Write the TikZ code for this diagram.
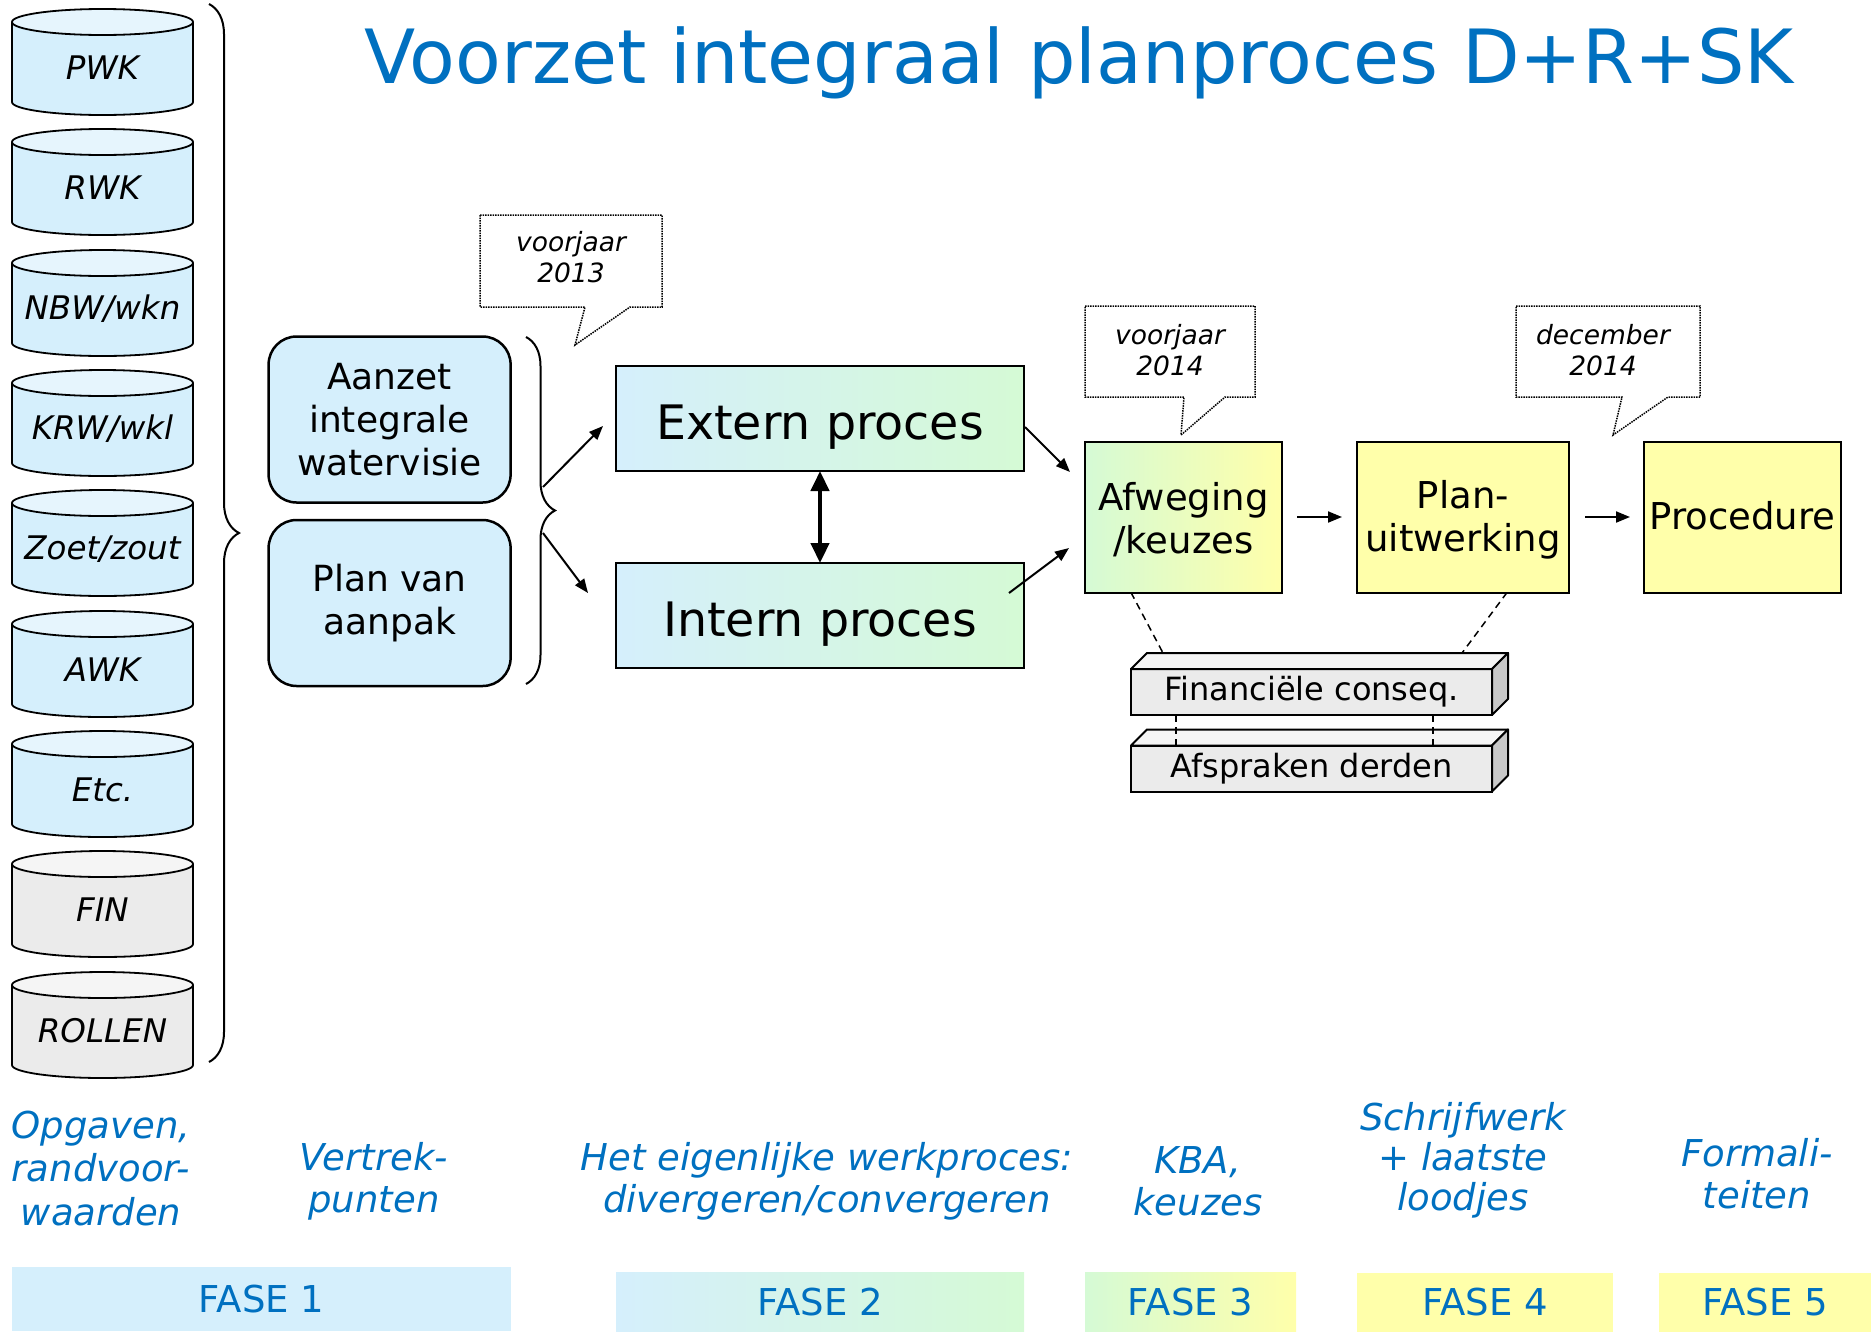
\documentclass[tikz,border=0pt]{standalone}
\usepackage{fontspec}
\setmainfont{DejaVu Sans}
\usetikzlibrary{arrows.meta,decorations.pathreplacing,calc}
\definecolor{tblue}{HTML}{0070C0}
\definecolor{lblue}{HTML}{D5EFFC}
\definecolor{lbluetop}{HTML}{E6F5FD}
\definecolor{lgreen}{HTML}{D5FAD5}
\definecolor{lyellow}{HTML}{FFFFAA}
\definecolor{lgray}{HTML}{EBEBEB}
\definecolor{lgraytop}{HTML}{F5F5F5}
\definecolor{dgray}{HTML}{C8C8C8}
\newcommand{\fs}[2]{\fontsize{#1}{#2}\selectfont}
\newcommand{\mycyl}[5]{%
  \fill[#4] (12,#2-40) rectangle (193,#2+40);
  \fill[#4] (102.5,#2+40) ellipse [x radius=90.5, y radius=13];
  \begin{scope}
    \clip (5,#2+40) rectangle (200,#2+60);
    \draw[cylline] (102.5,#2+40) ellipse [x radius=90.5, y radius=13];
  \end{scope}
  \draw[cylline] (12,#2-40) -- (12,#2+40) (193,#2-40) -- (193,#2+40);
  \draw[cylline, fill=#5] (102.5,#2-40) ellipse [x radius=90.5, y radius=13];
  \node[cyltext] (#1) at (102.5,#2+6) {#3};
}
\begin{document}
\begin{tikzpicture}[x=1pt,y=-1pt,
  cylline/.style={line width=1.8pt},
  cyltext/.style={font=\fs{32.5}{38}\itshape, inner sep=0pt},
  rbox/.style={draw, line width=2.5pt, rounded corners=28pt, fill=lblue, minimum width=242pt, minimum height=166pt, align=center, inner sep=0pt, outer sep=0pt, font=\fs{36}{43}},
  pbox/.style={draw, line width=2pt, inner sep=0pt, outer sep=0pt, align=center},
  arr/.style={line width=2pt, -{Triangle[length=14pt,width=11pt]}},
  calloutline/.style={densely dotted, line width=1.5pt},
  callouttext/.style={font=\fs{26.5}{31}\itshape, align=center, inner sep=0pt},
  phaselabel/.style={text=tblue, font=\fs{37}{42}\itshape, align=center, inner sep=0pt},
  fase/.style={inner sep=0pt, outer sep=0pt, text=tblue, font=\fs{37}{42}},
  bar3d/.style={draw, line width=2pt, fill=lgray, minimum width=361pt, minimum height=46pt, inner sep=0pt, outer sep=0pt, font=\fs{32}{36}},
  dline/.style={line width=1.5pt, dash pattern=on 7pt off 5pt},
]
\useasboundingbox (0,0) rectangle (1871,1331);

% title
\node[text=tblue, font=\fs{74.8}{80}, inner sep=0pt] (title) at (1079,63) {Voorzet integraal planproces D+R+SK};

% cylinders
\mycyl{pwk}{62}{PWK}{lblue}{lbluetop}
\mycyl{rwk}{182}{RWK}{lblue}{lbluetop}
\mycyl{nbw}{303}{NBW/wkn}{lblue}{lbluetop}
\mycyl{krw}{423}{KRW/wkl}{lblue}{lbluetop}
\mycyl{zoet}{543}{Zoet/zout}{lblue}{lbluetop}
\mycyl{awk}{664}{AWK}{lblue}{lbluetop}
\mycyl{etc}{784}{Etc.}{lblue}{lbluetop}
\mycyl{fin}{904}{FIN}{lgray}{lgraytop}
\mycyl{rollen}{1025}{ROLLEN}{lgray}{lgraytop}

% big brace
\draw[line width=2pt, decorate, decoration={brace, amplitude=30pt}] (209,4) -- (209,1062);

% rounded boxes
\node[rbox] (aanzet) at (389.6,419.5) {Aanzet\\integrale\\watervisie};
\node[rbox] (plan) at (389.6,603) {Plan van\\aanpak};
\draw[line width=2pt, decorate, decoration={brace, amplitude=29pt}] (526,337) -- (526,684);
\coordinate (bru) at (543,487);
\coordinate (brl) at (543,533);

% callout 2013
\draw[calloutline] (480,215) -- (662,215) -- (662,307) -- (630,307) -- (575,345) -- (585,307) -- (480,307) -- cycle;
\node[callouttext] (c13) at (571,257.5) {voorjaar\\2013};

% process boxes
\node[pbox, left color=lblue, right color=lgreen, minimum width=408pt, minimum height=105pt, font=\fs{47.5}{50}, text height=41pt, text depth=0pt] (ext) at (820,418.5) {Extern proces};
\node[pbox, left color=lblue, right color=lgreen, minimum width=408pt, minimum height=105pt, font=\fs{47.5}{50}, text height=41pt, text depth=0pt] (int) at (820,615.5) {Intern proces};
\draw[line width=4.5pt, {Triangle[length=20pt,width=18pt]}-{Triangle[length=20pt,width=18pt]}] (ext.south) -- (int.north);

\draw[arr] (bru) -- ($(ext.west)+(-13,7.5)$);
\draw[arr] (brl) -- ($(int.west)+(-28,-22.5)$);

% right boxes
\node[pbox, left color=lgreen, right color=lyellow, minimum width=197pt, minimum height=151pt, font=\fs{37}{43}] (afw) at (1183.5,517) {\rule{0pt}{34pt}Afweging\\/keuzes};
\node[pbox, fill=lyellow, minimum width=212pt, minimum height=151pt, font=\fs{37}{43}] (pu) at (1463,517) {\rule{0pt}{34pt}Plan-\\uitwerking};
\node[pbox, fill=lyellow, minimum width=197pt, minimum height=151pt, font=\fs{37}{43}, text height=24pt, text depth=0pt] (proc) at (1742.5,517) {Procedure};

\draw[arr] ($(ext.east)+(1,8.5)$) -- ($(afw.west)+(-15,-45)$);
\draw[arr] ($(int.east)+(-15,-22.5)$) -- ($(afw.west)+(-16,31)$);
\draw[arr, shorten <=15pt, shorten >=15pt] (afw.east) -- (pu.west);
\draw[arr, shorten <=16pt, shorten >=14pt] (pu.east) -- (proc.west);

% callouts 2014
\draw[calloutline] (1085,306) -- (1255,306) -- (1255,397) -- (1225,397) -- (1181,435) -- (1184,397) -- (1085,397) -- cycle;
\node[callouttext] (c14) at (1170,350) {voorjaar\\2014};
\draw[calloutline] (1516,306) -- (1700,306) -- (1700,397) -- (1668,397) -- (1613,435) -- (1622,397) -- (1516,397) -- cycle;
\node[callouttext] (cdec) at (1603,350) {december\\2014};

% 3D bars
\node[bar3d] (finc) at (1311.5,692) {Financiële conseq.};
\node[bar3d] (afs) at (1311.5,768.5) {Afspraken derden};
\draw[dline] ($(afw.south west)+(46,0)$) -- ($(finc.north west)+(32,-16)$);
\draw[dline] ($(pu.south west)+(150,0)$) -- ($(finc.north west)+(331,-16)$);
\foreach \b in {finc,afs}{
  \draw[line width=2pt, fill=lgraytop, line join=round] (\b.north west) -- ++(16,-16) -- ++(361,0) -- (\b.north east) -- cycle;
  \draw[line width=2pt, fill=dgray, line join=round] (\b.north east) -- ++(16,-16) -- ++(0,46) -- (\b.south east) -- cycle;
}
\draw[dline] ($(finc.south west)+(45,0)$) -- ($(afs.north west)+(45,0)$);
\draw[dline] ($(finc.south west)+(302,0)$) -- ($(afs.north west)+(302,0)$);

% phase labels
\node[phaselabel, font=\fs{37}{43.5}\itshape] (l1) at (101,1168.5) {Opgaven,\\randvoor-\\waarden};
\node[phaselabel] (l2) at (374,1181) {Vertrek-\\punten};
\node[phaselabel] (l3) at (827,1181) {Het eigenlijke werkproces:\\divergeren/convergeren};
\node[phaselabel] (l4) at (1198,1181) {KBA,\\keuzes};
\node[phaselabel, font=\fs{37}{40}\itshape] (l5) at (1463,1160) {Schrijfwerk\\+ laatste\\loodjes};
\node[phaselabel] (l6) at (1757,1174) {Formali-\\teiten};

% phase bars
\node[fase, fill=lblue, minimum width=499pt, minimum height=64pt] (f1) at (261.5,1299) {FASE 1};
\node[fase, left color=lblue, right color=lgreen, minimum width=408pt, minimum height=60pt] (f2) at (820,1302) {FASE 2};
\node[fase, left color=lgreen, right color=lyellow, minimum width=211pt, minimum height=60pt] (f3) at (1190.5,1302) {FASE 3};
\node[fase, fill=lyellow, minimum width=256pt, minimum height=59pt] (f4) at (1485,1302.5) {FASE 4};
\node[fase, fill=lyellow, minimum width=212pt, minimum height=59pt] (f5) at (1765,1302.5) {FASE 5};
\end{tikzpicture}
\end{document}
